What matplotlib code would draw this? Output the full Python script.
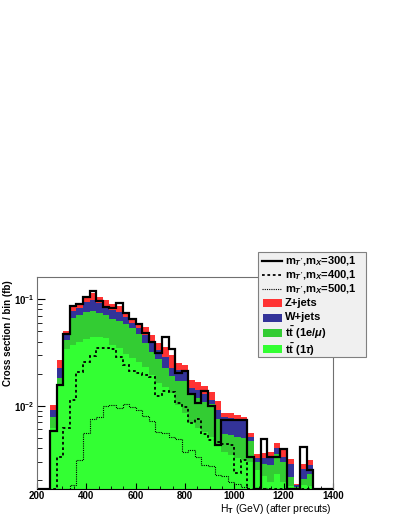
import numpy as np
import matplotlib
matplotlib.use('Agg')
import matplotlib.pyplot as plt
from matplotlib.lines import Line2D
from matplotlib.patches import Rectangle
from matplotlib.ticker import LogLocator, MultipleLocator, NullFormatter

plt.rcParams['font.family'] = ['Liberation Sans', 'DejaVu Sans']
plt.rcParams['font.weight'] = 'bold'
plt.rcParams['mathtext.fontset'] = 'custom'
plt.rcParams['mathtext.rm'] = 'Liberation Sans:bold'
plt.rcParams['mathtext.it'] = 'Liberation Sans:italic:bold'
plt.rcParams['mathtext.bf'] = 'Liberation Sans:bold'
plt.rcParams['mathtext.sf'] = 'Liberation Sans'

# HT bins, 45 bins from 200 to 1400 GeV
edges = np.linspace(200, 1400, 46)

# backgrounds (fb / bin)
tt_tau = [0, 0, 0.00618, 0.01596, 0.0340, 0.0371, 0.0395, 0.0422, 0.0440, 0.0440,
          0.0431, 0.0371, 0.0347, 0.0305, 0.0280, 0.0257, 0.0230, 0.0194, 0.0163, 0.0150,
          0.01315, 0.01015, 0.00854, 0.00689, 0.00618, 0.00567, 0.00509, 0.00428, 0.00368, 0.00345,
          0.00323, 0.00310, 0.00297, 0.00250, 0.00219, 0.00193, 0.00229, 0.00193, 0.00177, 0.0015,
          0.00181, 0.00177, 0, 0, 0]
tt_lep = [0, 0, 0.00166, 0.00222, 0.0073, 0.0293, 0.0313, 0.0333, 0.0332, 0.0299,
          0.0277, 0.0279, 0.0275, 0.0278, 0.0255, 0.0213, 0.0157, 0.0124, 0.0111, 0.0075,
          0.00585, 0.0070, 0.0087, 0.00571, 0.00562, 0.00513, 0.00528, 0.00322, 0.00175, 0.00186,
          0.00186, 0.00188, 0.0017, 0.00047, 0.00065, 0.00085, 0.00124, 0.00104, 0.00038, 0.00023,
          0.00025, 0.00052, 0, 0, 0]
w_jets = [0, 0, 0.00128, 0.00432, 0.0047, 0.0108, 0.0116, 0.0182, 0.0207, 0.0178,
          0.0152, 0.0139, 0.0133, 0.0095, 0.0061, 0.0065, 0.0073, 0.0077, 0.0059, 0.0061,
          0.0035, 0.0044, 0.0035, 0.00205, 0.00223, 0.00208, 0.00093, 0.00162, 0.00241, 0.00236,
          0.00241, 0.00236, 0.00042, 0.00026, 0.00039, 0.00052, 0.00048, 0.00033, 0.00069, 0.00008,
          0.00049, 0.00049, 0, 0, 0]
z_jets = [0, 0, 0.00114, 0.0043, 0.0041, 0.0079, 0.0083, 0.0130, 0.0159, 0.0127,
          0.0119, 0.0109, 0.0105, 0.0077, 0.0068, 0.0067, 0.0087, 0.0065, 0.0054, 0.0069,
          0.0074, 0.0035, 0.0034, 0.00275, 0.00267, 0.00242, 0.00214, 0.00195, 0.0007, 0.00087,
          0.00068, 0.0005, 0.00046, 0.0003, 0.00037, 0.00038, 0.00046, 0.00054, 0.00033, 0.00004,
          0.00029, 0.00032, 0.0017, 0.0017, 0]

# signals
sig300 = [0, 0, 0.00579, 0.01563, 0.0470, 0.0860, 0.0907, 0.1044, 0.1196, 0.0968,
          0.0851, 0.0824, 0.0923, 0.0744, 0.0650, 0.0589, 0.0480, 0.0400, 0.0312, 0.0440,
          0.0340, 0.0202, 0.0214, 0.0130, 0.0107, 0.01373, 0.00994, 0.00428, 0.00734, 0.00734,
          0.00734, 0.00734, 0.00330, 0, 0.00487, 0.00330, 0.00330, 0.00397, 0, 0,
          0.00410, 0.00250, 0, 0, 0]
sig400 = [0, 0, 0, 0.00330, 0.00618, 0.0113, 0.0207, 0.0257, 0.0292, 0.0345,
          0.0345, 0.0343, 0.0286, 0.0241, 0.0211, 0.0202, 0.0194, 0.0186, 0.01233, 0.01373,
          0.01344, 0.0106, 0.00973, 0.00689, 0.00750, 0.00543, 0.00477, 0.00457, 0.00438, 0.00428,
          0.00234, 0.00310, 0, 0, 0, 0, 0, 0, 0, 0,
          0, 0, 0, 0, 0]
sig500 = [0, 0, 0, 0, 0, 0.00181, 0.00310, 0.00555, 0.00750, 0.00784,
          0.01004, 0.01015, 0.00952, 0.01049, 0.00973, 0.00912, 0.00801, 0.00719, 0.00573, 0.00561,
          0.00509, 0.00487, 0.00368, 0.00384, 0.00330, 0.00278, 0.00272, 0.00224, 0.00219, 0.00193,
          0.00185, 0.00173, 0, 0.0017, 0.0017, 0, 0, 0, 0.0017, 0,
          0, 0, 0, 0, 0]

labels = [r"m$_{T'}$,m$_X$=300,1", r"m$_{T'}$,m$_X$=400,1", r"m$_{T'}$,m$_X$=500,1",
          'Z+jets', 'W+jets', r't$\bar{\rm t}$ (1e/$\mu$)', r't$\bar{\rm t}$ (1$\tau$)']

ymin, ymax = 0.00165, 0.162
W, H = 399, 516

fig = plt.figure(figsize=(W/100, H/100), dpi=100)
ax = fig.add_axes([37/W, (H-489.3)/H, 296/W, 212.6/H])

cols = {'tau': '#33ff33', 'lep': '#33cc33', 'w': '#333399', 'z': '#ff3333'}
cum = np.zeros(len(edges) - 1)
for vals, c in [(tt_tau, cols['tau']), (tt_lep, cols['lep']),
                (w_jets, cols['w']), (z_jets, cols['z'])]:
    low = cum.copy()
    cum = cum + np.array(vals)
    ax.stairs(np.maximum(cum, 1e-6), edges, baseline=np.maximum(low, 1e-6),
              fill=True, color=c, lw=0)

sig_styles = [dict(lw=1.6, linestyle='-'),
              dict(lw=1.3, linestyle=(0, (1.5, 1.5))),
              dict(lw=0.8, linestyle=(0, (1, 1)))]
for sig, st in zip([sig300, sig400, sig500], sig_styles):
    ax.stairs(np.maximum(sig, ymin), edges, baseline=None, color='k', **st)

ax.set_yscale('log')
ax.set_xlim(200, 1400)
ax.set_ylim(ymin, ymax)
ax.yaxis.set_major_locator(LogLocator(base=10, numticks=10))
ax.yaxis.set_minor_locator(LogLocator(base=10, subs=np.arange(2, 10), numticks=10))
ax.yaxis.set_minor_formatter(NullFormatter())
ax.xaxis.set_major_locator(MultipleLocator(200))
ax.xaxis.set_minor_locator(MultipleLocator(50))
ax.tick_params(which='both', direction='in', top=False, right=False, labelsize=7)
ax.tick_params(axis='y', which='major', length=6, pad=1.5)
ax.tick_params(axis='y', which='minor', length=3.5)
ax.tick_params(axis='x', which='major', length=4, pad=1.5)
ax.tick_params(axis='x', which='minor', length=2)
for s in ax.spines.values():
    s.set_color('#707070')
    s.set_linewidth(0.8)
ax.spines['bottom'].set_color('k')

ax.set_ylabel('Cross section / bin (fb)', fontsize=7, fontweight='bold', loc='top')
ax.yaxis.set_label_coords(-0.082, 0.985)
ax.set_xlabel(r'H$_{\mathsf{T}}$ (GeV) (after precuts)', fontsize=7.5,
              fontweight='normal', loc='right')
ax.xaxis.set_label_coords(0.997, -0.06)

# legend box drawn by hand (ROOT TLegend look, sticks out past the frame)
tf = fig.transFigure
fig.add_artist(Rectangle((257.7/W, 1-357.3/H), (366-257.7)/W, (357.3-251.7)/H,
                         transform=tf, facecolor='#f0f0f0', edgecolor='#808080',
                         lw=0.8, zorder=5))
rows = [261, 275, 289, 303, 317.5, 332.5, 349.3]
for i, (lab, yc) in enumerate(zip(labels, rows)):
    fy = 1 - yc/H
    if i < 3:
        fig.add_artist(Line2D([262/W, 282/W], [fy, fy], transform=tf, color='k',
                              zorder=6, **sig_styles[i]))
    else:
        c = [cols['z'], cols['w'], cols['lep'], cols['tau']][i-3]
        fig.add_artist(Rectangle((263/W, fy-4/H), 19/W, 8/H, transform=tf,
                                 facecolor=c, lw=0, zorder=6))
    fig.text(285/W, fy, lab, fontsize=8, fontweight='bold', va='center',
             ha='left', zorder=7)

fig.savefig('out.png', dpi=100)
